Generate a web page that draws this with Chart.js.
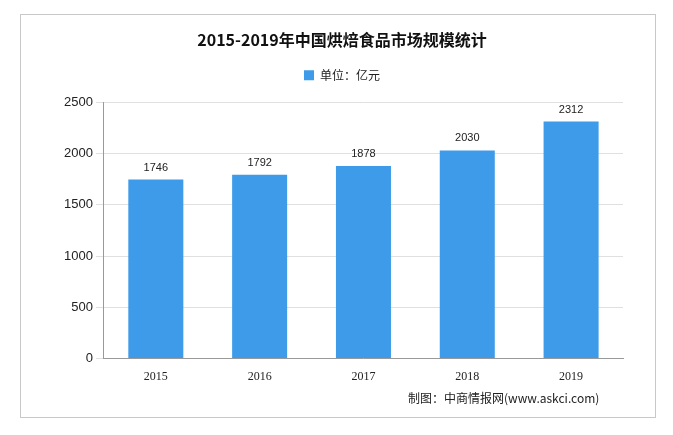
<!DOCTYPE html>
<html><head><meta charset="utf-8">
<script src="https://cdn.jsdelivr.net/npm/chart.js@4"></script>
<style>
html,body{margin:0;padding:0;background:#fff;}
#wrap{position:absolute;left:20px;top:14px;width:636px;height:404px;border:1px solid #c8c8c8;box-sizing:border-box;}
canvas{position:absolute;left:0;top:0;}
#src{position:absolute;left:408px;top:389px;font:12px "Noto Sans CJK SC",sans-serif;color:#222;}
</style></head><body>
<div id="wrap"></div>
<canvas id="c" width="673" height="435"></canvas>
<div id="src">制图：中商情报网(www.askci.com)</div>
<script>
const categories=["2015","2016","2017","2018","2019"];
const values=[1746,1792,1878,2030,2312];
const seriesName="单位：亿元";
new Chart(document.getElementById('c'),{
type:'bar',
data:{labels:categories,datasets:[{label:seriesName,data:values,backgroundColor:'#3d9be9',barPercentage:0.53,categoryPercentage:1}]},
options:{responsive:false,animation:false,
layout:{padding:{left:61,right:50,top:30,bottom:48}},
plugins:{
title:{display:true,text:'2015-2019年中国烘焙食品市场规模统计',font:{family:'"Noto Sans CJK SC"',size:16,weight:'bold'},color:'#111',padding:{top:0,bottom:7}},
legend:{labels:{boxWidth:10,boxHeight:10,padding:13,font:{family:'"Noto Sans CJK SC"',size:12},color:'#222'}},
tooltip:{enabled:false}},
scales:{
x:{grid:{display:false},border:{color:'#999'},ticks:{font:{family:'"Liberation Serif"',size:12},color:'#222'}},
y:{min:0,max:2500,ticks:{stepSize:500,callback:v=>String(v),font:{family:'"Liberation Sans"',size:13},color:'#222'},grid:{color:'#e0e0e0'},border:{color:'#999'}}}},
plugins:[{id:'legendSpace',beforeInit(ch){const lg=ch.legend;const f=lg.fit;lg.fit=function(){f.call(this);this.height+=11;};}},
{id:'lbl',afterDatasetsDraw(ch){const ctx=ch.ctx;ctx.save();ctx.font='11px "Liberation Sans"';ctx.fillStyle='#222';ctx.textAlign='center';
ch.getDatasetMeta(0).data.forEach((b,i)=>ctx.fillText(values[i],b.x,b.y-12));ctx.restore();}}]
});
</script></body></html>
